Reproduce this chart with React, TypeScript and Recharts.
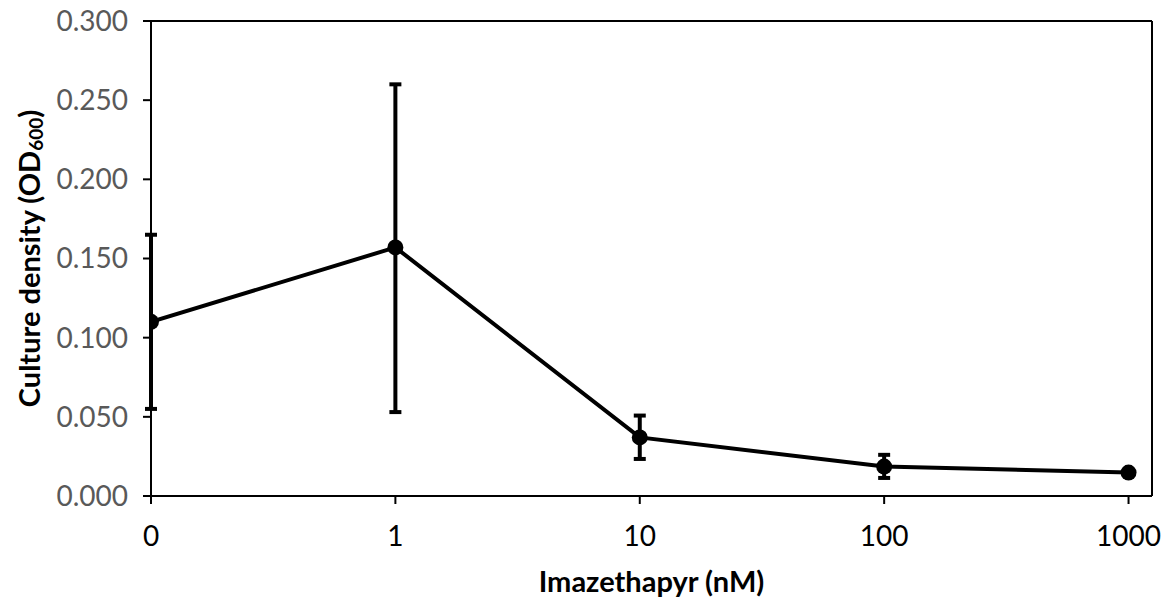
import { LineChart, Line, XAxis, YAxis, ErrorBar, Label, ReferenceLine } from 'recharts'

const concentrations = ['0', '1', '10', '100', '1000']
const density = [0.11, 0.157, 0.037, 0.0186, 0.0148]
const lowerBound = [0.055, 0.053, 0.0234, 0.0114, 0.0138]
const upperBound = [0.165, 0.26, 0.0508, 0.026, 0.0158]
const yTicks = [0, 0.05, 0.1, 0.15, 0.2, 0.25, 0.3]
const xMax = 4.096

const data = concentrations.map((c, i) => ({
  pos: i,
  label: c,
  value: density[i],
  err: [density[i] - lowerBound[i], upperBound[i] - density[i]],
}))

const FONT = 'Lato, "Open Sans", sans-serif'

function YTitle(props: any) {
  const vb = props.viewBox || { x: 0, y: 0, width: 0, height: 0 }
  const cx = 28
  const cy = vb.y + vb.height / 2
  return (
    <text
      x={cx}
      y={cy}
      transform={`rotate(-90, ${cx}, ${cy})`}
      textAnchor="middle"
      dominantBaseline="central"
      fontFamily={FONT}
      fontWeight="bold"
      fontSize={29}
      fill="#000"
    >
      Culture density (OD
      <tspan fontSize={19} dy={7}>600</tspan>
      <tspan dy={-7}>)</tspan>
    </text>
  )
}

export default function App() {
  return (
    <div style={{ position: 'absolute', left: 0, top: 0, width: 1164, height: 598, background: '#fff' }}>
      <LineChart
        width={1164}
        height={598}
        data={data}
        margin={{ top: 21, right: 12, bottom: 0, left: 0 }}
      >
        <XAxis
          dataKey="pos"
          type="number"
          domain={[0, xMax]}
          ticks={[0, 1, 2, 3, 4]}
          tickFormatter={(v: number) => concentrations[v]}
          allowDataOverflow
          height={102}
          axisLine={{ stroke: '#000', strokeWidth: 2 }}
          tickLine={{ stroke: '#000', strokeWidth: 2 }}
          tickSize={8}
          tickMargin={22}
          tick={{ fill: '#000', fontSize: 28, fontFamily: FONT }}
        >
          <Label
            value="Imazethapyr (nM)"
            position="insideBottom"
            offset={6}
            style={{ fontFamily: FONT, fontWeight: 'bold', fontSize: 29, fill: '#000' }}
          />
        </XAxis>
        <YAxis
          type="number"
          domain={[0, 0.3]}
          ticks={yTicks}
          tickFormatter={(v: number) => v.toFixed(3)}
          width={151}
          axisLine={{ stroke: '#000', strokeWidth: 2 }}
          tickLine={{ stroke: '#000', strokeWidth: 2 }}
          tickSize={8}
          tickMargin={15}
          tick={{ fill: '#595959', fontSize: 28, fontFamily: FONT }}
        >
          <Label content={YTitle} />
        </YAxis>
        <ReferenceLine y={0.3} stroke="#000" strokeWidth={2} ifOverflow="visible" />
        <ReferenceLine x={xMax} stroke="#000" strokeWidth={2} ifOverflow="visible" />
        <Line
          dataKey="value"
          type="linear"
          stroke="#000"
          strokeWidth={4}
          dot={{ r: 8, fill: '#000', stroke: '#000', strokeWidth: 0 }}
          isAnimationActive={false}
        >
          <ErrorBar dataKey="err" direction="y" width={6} stroke="#000" strokeWidth={4} />
        </Line>
      </LineChart>
    </div>
  )
}
